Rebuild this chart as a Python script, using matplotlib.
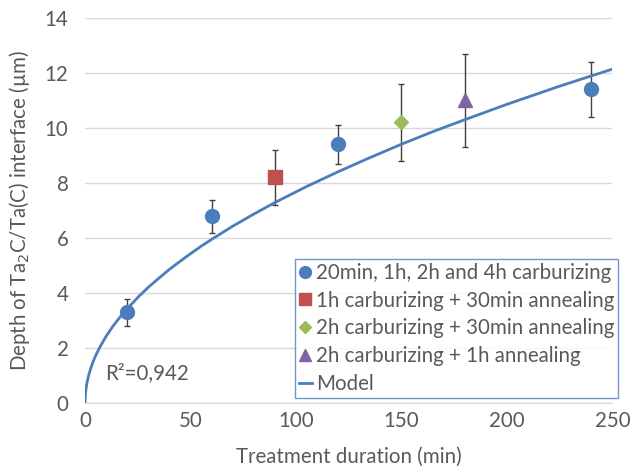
import matplotlib.pyplot as plt

plt.rcParams['font.family'] = ['Lato', 'DejaVu Sans']

# measured points (treatment time in min, depth in um, error bar low/high)
carb_t = [20, 60, 120, 240]
carb_d = [3.3, 6.8, 9.4, 11.4]
carb_lo = [2.8, 6.2, 8.7, 10.4]
carb_hi = [3.8, 7.4, 10.1, 12.4]

ann1_t = [90]
ann1_d = [8.2]
ann1_lo = [7.2]
ann1_hi = [9.2]

ann2_t = [150]
ann2_d = [10.2]
ann2_lo = [8.8]
ann2_hi = [11.6]

ann3_t = [180]
ann3_d = [11.0]
ann3_lo = [9.3]
ann3_hi = [12.7]

# model curve
model_t = [0, 0.1, 0.2, 0.5, 1, 1.5, 2, 3, 4, 5, 7, 10, 13, 16, 20, 25, 30,
           35, 40, 45, 50, 55, 60, 70, 80, 90, 105, 120, 135, 150, 165, 180,
           200, 225, 250]
model_d = [0, 0.24, 0.34, 0.54, 0.77, 0.94, 1.09, 1.33, 1.54, 1.72, 2.03,
           2.43, 2.77, 3.07, 3.43, 3.84, 4.21, 4.54, 4.86, 5.15, 5.43, 5.70,
           5.95, 6.43, 6.87, 7.29, 7.87, 8.41, 8.92, 9.41, 9.87, 10.30,
           10.86, 11.52, 12.14]

labels = ['20min, 1h, 2h and 4h carburizing',
          '1h carburizing + 30min annealing',
          '2h carburizing + 30min annealing',
          '2h carburizing + 1h annealing',
          'Model']

txt = '#595959'
fs = 14.8
fig, ax = plt.subplots(figsize=(6.3, 4.72), dpi=100)
fig.subplots_adjust(left=0.135, right=0.972, top=0.962, bottom=0.146)

ax.grid(axis='y', color='#d9d9d9', lw=1)
ax.set_axisbelow(True)

series = [
    (carb_t, carb_d, carb_lo, carb_hi, 'o', '#4a7ebb', 10),
    (ann1_t, ann1_d, ann1_lo, ann1_hi, 's', '#c0504d', 10),
    (ann2_t, ann2_d, ann2_lo, ann2_hi, 'D', '#9bbb59', 7),
    (ann3_t, ann3_d, ann3_lo, ann3_hi, '^', '#8064a2', 10),
]
handles = []
for (t, d, lo, hi, m, c, ms) in series:
    yerr = [[v - l for v, l in zip(d, lo)], [h - v for v, h in zip(d, hi)]]
    ax.errorbar(t, d, yerr=yerr, fmt='none', ecolor='#404040', elinewidth=1,
                capsize=2.5, capthick=1, zorder=2)
    h, = ax.plot(t, d, ls='none', marker=m, color=c, ms=ms, zorder=3)
    handles.append(h)

h, = ax.plot(model_t, model_d, color='#4a7ebb', lw=2, zorder=4)
handles.append(h)

ax.text(9.5, 1.1, 'R²=0,942', color=txt, fontsize=fs, va='center')

ax.set_xlim(0, 250)
ax.set_ylim(0, 14)
ax.set_xticks(range(0, 251, 50))
ax.set_yticks(range(0, 15, 2))
for s in ['top', 'right', 'left']:
    ax.spines[s].set_visible(False)
ax.spines['bottom'].set_color('#d9d9d9')
ax.tick_params(length=0, labelsize=fs, colors=txt)
ax.tick_params(axis='x', pad=6)
ax.tick_params(axis='y', pad=12)
ax.set_xlabel('Treatment duration (min)', color=txt, fontsize=fs, labelpad=11)
ax.set_ylabel('Depth of Ta$_2$C/Ta(C) interface (µm)', color=txt,
              fontsize=fs, labelpad=9)

leg = ax.legend(handles, labels, loc='lower right', bbox_to_anchor=(1.011, 0.013),
                fontsize=fs, frameon=True, fancybox=False, handlelength=0.6,
                handletextpad=0.2, borderpad=0.2, labelspacing=0.38,
                borderaxespad=0, markerscale=0.85)
leg.get_frame().set_edgecolor('#4a7ebb')
leg.get_frame().set_linewidth(1)
for t in leg.get_texts():
    t.set_color(txt)

fig.savefig('out.png', dpi=100)
